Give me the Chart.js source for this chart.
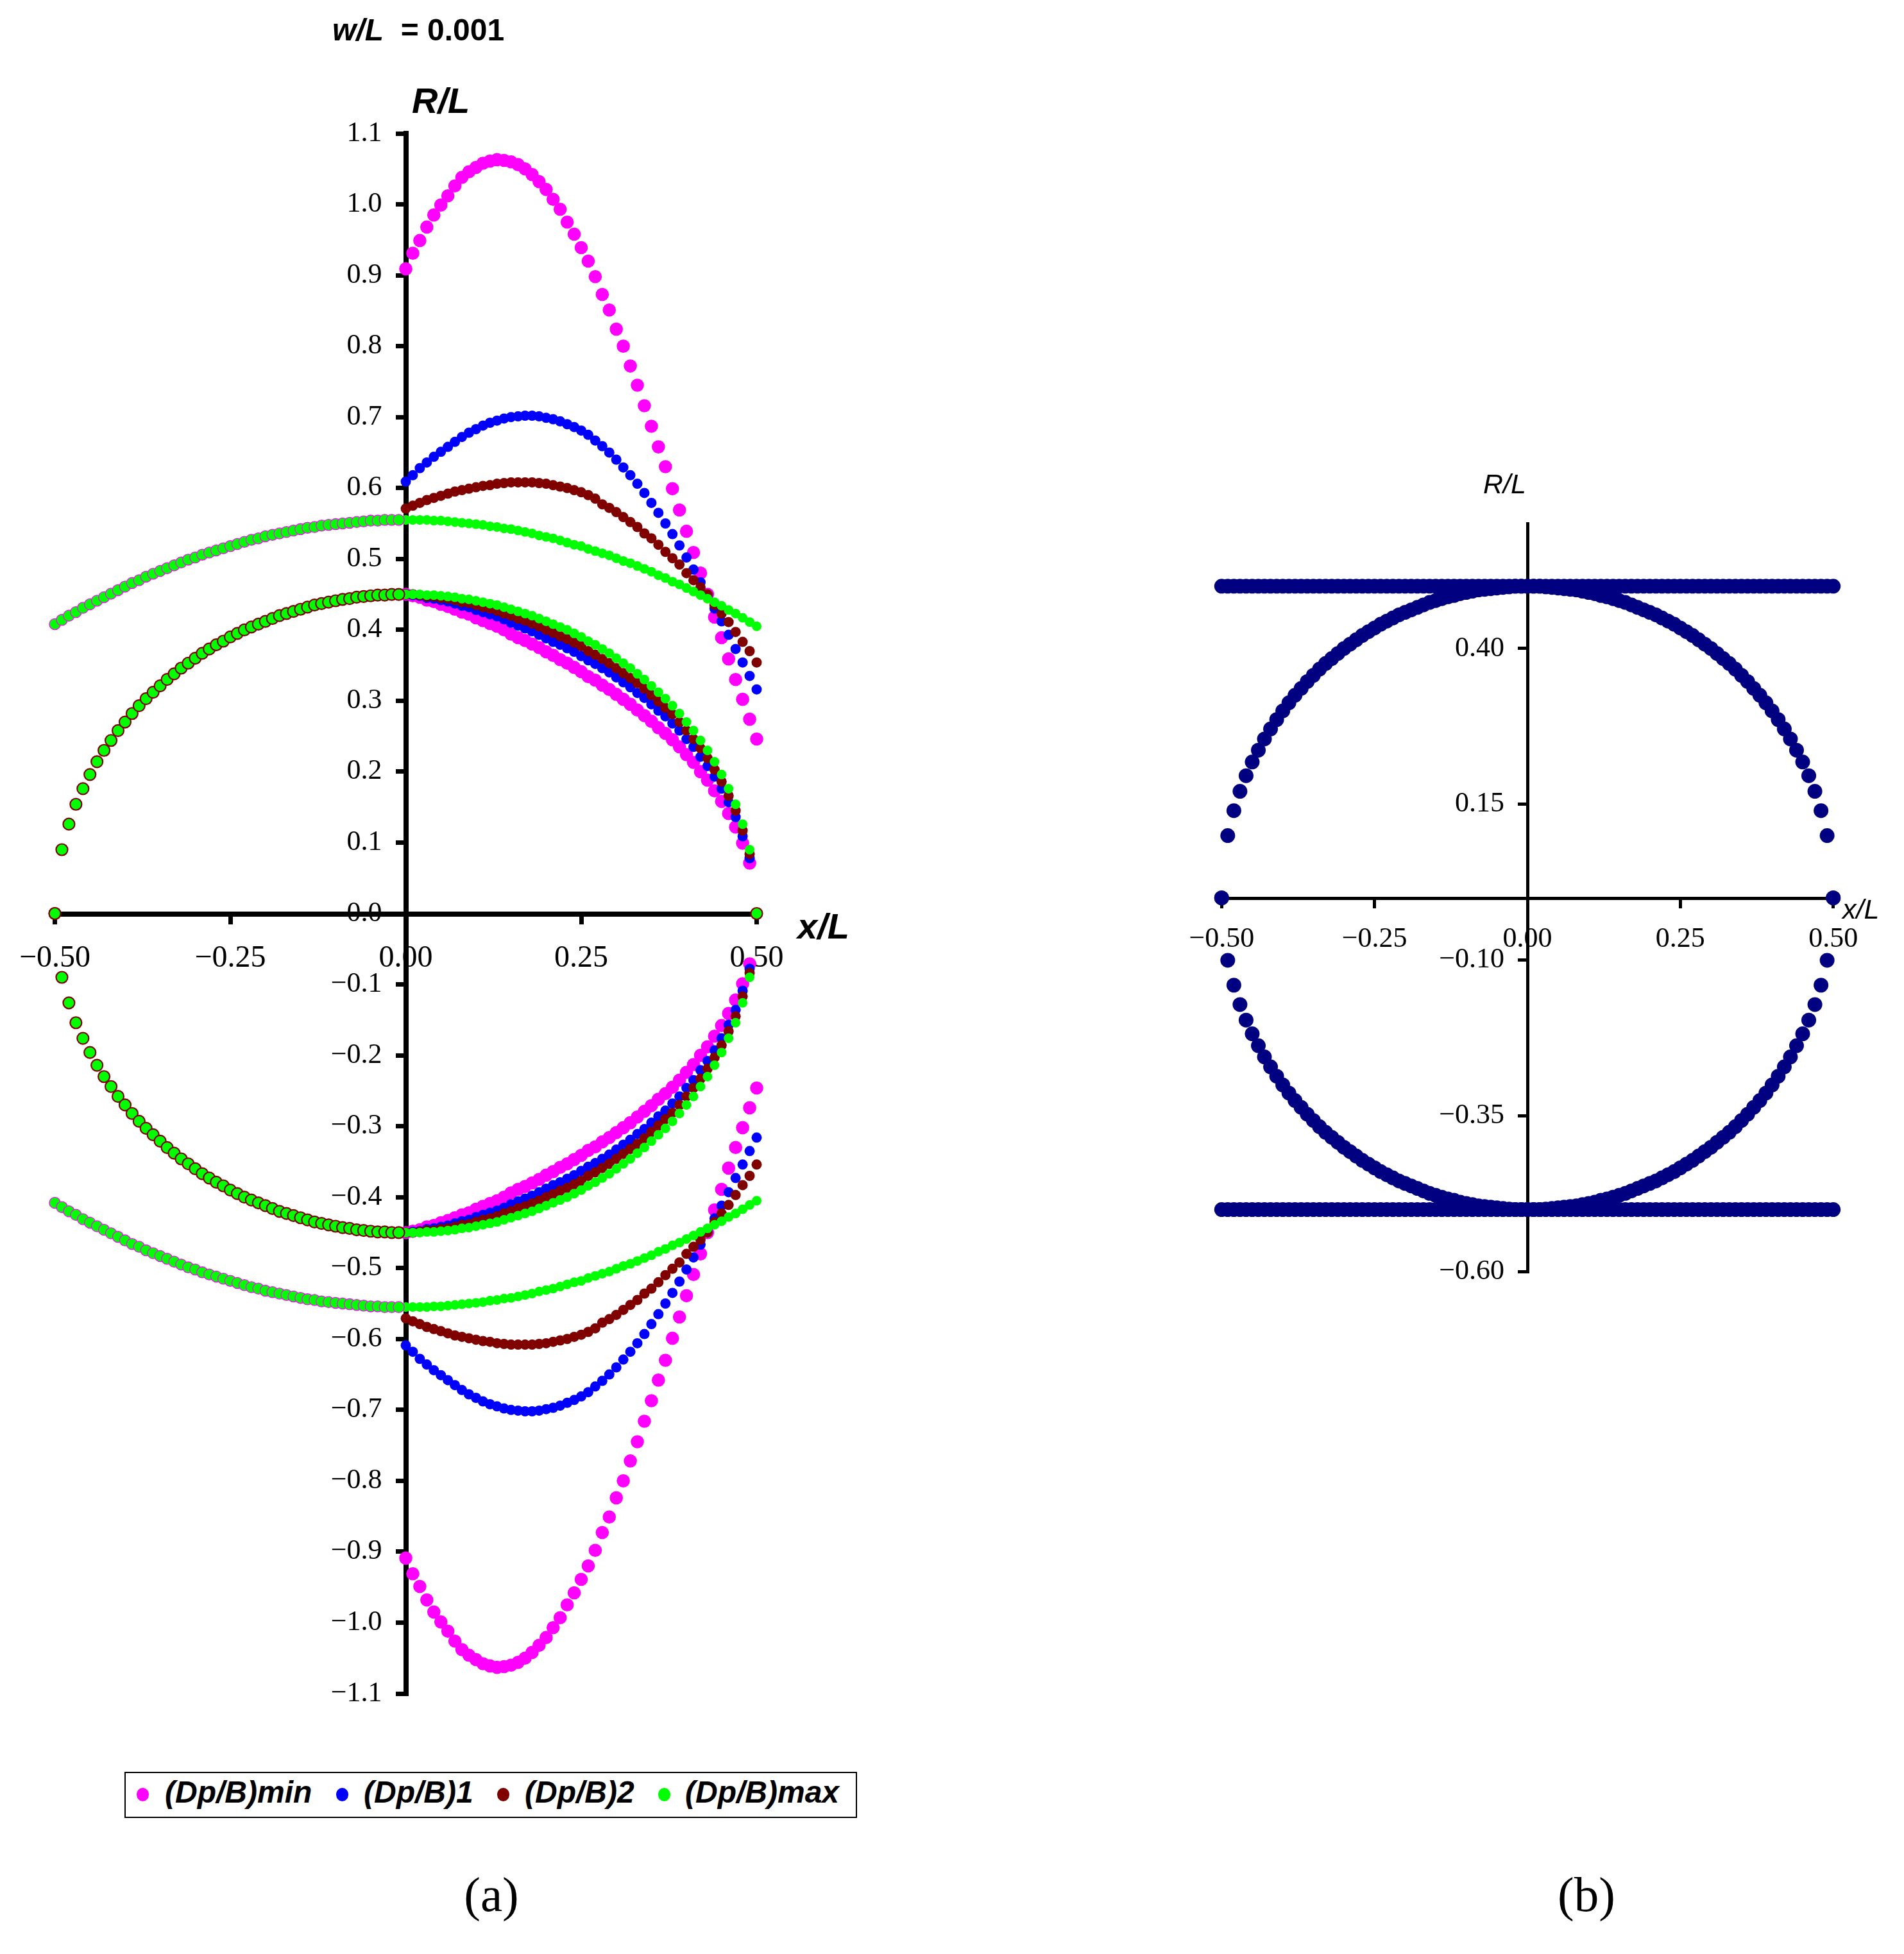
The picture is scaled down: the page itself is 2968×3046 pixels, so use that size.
<!DOCTYPE html>
<html>
<head>
<meta charset="utf-8">
<script src="https://cdn.jsdelivr.net/npm/chart.js@4.4.1/dist/chart.umd.min.js"></script>
<style>
  html, body { margin: 0; padding: 0; background: #fff; }
  body { width: 2968px; height: 3046px; position: relative; overflow: hidden; }
  canvas { position: absolute; }
  .t { position: absolute; white-space: pre; color: #000; line-height: 1; }
  .sans { font-family: "Liberation Sans", Arial, sans-serif; }
  .serif { font-family: "Liberation Serif", "Times New Roman", serif; }
  .legend { position: absolute; left: 194px; top: 2762px; width: 1138px; height: 68px; border: 2px solid #000; }
  .mk { position: absolute; width: 19px; height: 21px; border-radius: 50%; }
</style>
</head>
<body>
<canvas id="chartA" width="1400" height="2700" style="left:0;top:0"></canvas>
<canvas id="chartB" width="1168" height="1500" style="left:1800px;top:600px"></canvas>

<div class="t sans" style="left:518px;top:23px;font-size:48px;font-weight:bold"><i>w/L</i>  = 0.001</div>
<div class="t sans" style="left:642px;top:129px;font-size:56px;font-weight:bold;font-style:italic">R/L</div>
<div class="t sans" style="left:1243px;top:1416px;font-size:56px;font-weight:bold;font-style:italic">x/L</div>
<div class="t sans" style="left:2312px;top:733px;font-size:43px;font-style:italic">R/L</div>
<div class="t sans" style="left:2872px;top:1396px;font-size:43px;font-style:italic">x/L</div>

<div class="legend"></div>
<div class="mk" style="left:213px;top:2787px;background:#ff00ff"></div>
<div class="mk" style="left:524px;top:2787px;background:#0000ff"></div>
<div class="mk" style="left:775px;top:2787px;background:#800000"></div>
<div class="mk" style="left:1026px;top:2787px;background:#00ff00"></div>
<div class="t sans" style="left:257px;top:2770px;font-size:48px;font-weight:bold;font-style:italic">(Dp/B)min</div>
<div class="t sans" style="left:567px;top:2770px;font-size:48px;font-weight:bold;font-style:italic">(Dp/B)1</div>
<div class="t sans" style="left:818px;top:2770px;font-size:48px;font-weight:bold;font-style:italic">(Dp/B)2</div>
<div class="t sans" style="left:1068px;top:2770px;font-size:48px;font-weight:bold;font-style:italic">(Dp/B)max</div>

<div class="t serif" style="left:666px;width:200px;text-align:center;top:2915px;font-size:77px">(a)</div>
<div class="t serif" style="left:2373px;width:200px;text-align:center;top:2915px;font-size:77px">(b)</div>

<script>
"use strict";

// ---------- (a) data ----------
const xRight = [0.00, 0.01, 0.02, 0.03, 0.04, 0.05, 0.06, 0.07, 0.08, 0.09,
  0.10, 0.11, 0.12, 0.13, 0.14, 0.15, 0.16, 0.17, 0.18, 0.19,
  0.20, 0.21, 0.22, 0.23, 0.24, 0.25, 0.26, 0.27, 0.28, 0.29,
  0.30, 0.31, 0.32, 0.33, 0.34, 0.35, 0.36, 0.37, 0.38, 0.39,
  0.40, 0.41, 0.42, 0.43, 0.44, 0.45, 0.46, 0.47, 0.48, 0.49, 0.50];
const xLeft = [-0.50, -0.49, -0.48, -0.47, -0.46, -0.45, -0.44, -0.43, -0.42, -0.41,
  -0.40, -0.39, -0.38, -0.37, -0.36, -0.35, -0.34, -0.33, -0.32, -0.31,
  -0.30, -0.29, -0.28, -0.27, -0.26, -0.25, -0.24, -0.23, -0.22, -0.21,
  -0.20, -0.19, -0.18, -0.17, -0.16, -0.15, -0.14, -0.13, -0.12, -0.11,
  -0.10, -0.09, -0.08, -0.07, -0.06, -0.05, -0.04, -0.03, -0.02, -0.01];

// left half, shared by all four series
const upLeft = [0.408, 0.414, 0.420, 0.425, 0.431, 0.436, 0.441, 0.446, 0.451, 0.456,
  0.461, 0.466, 0.470, 0.475, 0.479, 0.483, 0.487, 0.491, 0.495, 0.499,
  0.502, 0.506, 0.509, 0.512, 0.515, 0.518, 0.521, 0.524, 0.527, 0.529,
  0.532, 0.534, 0.536, 0.538, 0.540, 0.542, 0.544, 0.545, 0.547, 0.548,
  0.549, 0.550, 0.551, 0.552, 0.553, 0.554, 0.554, 0.555, 0.555, 0.555];
const upLeftNeg = [-0.408, -0.414, -0.420, -0.425, -0.431, -0.436, -0.441, -0.446, -0.451, -0.456,
  -0.461, -0.466, -0.470, -0.475, -0.479, -0.483, -0.487, -0.491, -0.495, -0.499,
  -0.502, -0.506, -0.509, -0.512, -0.515, -0.518, -0.521, -0.524, -0.527, -0.529,
  -0.532, -0.534, -0.536, -0.538, -0.540, -0.542, -0.544, -0.545, -0.547, -0.548,
  -0.549, -0.550, -0.551, -0.552, -0.553, -0.554, -0.554, -0.555, -0.555, -0.555];
const lowLeft = [0.000, 0.090, 0.126, 0.154, 0.176, 0.196, 0.214, 0.230, 0.244, 0.258,
  0.270, 0.282, 0.293, 0.303, 0.312, 0.321, 0.330, 0.338, 0.346, 0.353,
  0.360, 0.367, 0.373, 0.379, 0.384, 0.390, 0.395, 0.400, 0.404, 0.408,
  0.412, 0.416, 0.420, 0.423, 0.426, 0.429, 0.432, 0.435, 0.437, 0.439,
  0.441, 0.443, 0.444, 0.446, 0.447, 0.448, 0.449, 0.449, 0.450, 0.450];
const lowLeftNeg = [0.000, -0.090, -0.126, -0.154, -0.176, -0.196, -0.214, -0.230, -0.244, -0.258,
  -0.270, -0.282, -0.293, -0.303, -0.312, -0.321, -0.330, -0.338, -0.346, -0.353,
  -0.360, -0.367, -0.373, -0.379, -0.384, -0.390, -0.395, -0.400, -0.404, -0.408,
  -0.412, -0.416, -0.420, -0.423, -0.426, -0.429, -0.432, -0.435, -0.437, -0.439,
  -0.441, -0.443, -0.444, -0.446, -0.447, -0.448, -0.449, -0.449, -0.450, -0.450];
const endX = [0.50];
const endY = [0.000];

// (Dp/B)min
const minUp = [0.909, 0.931, 0.949, 0.968, 0.985, 0.999, 1.012, 1.026, 1.038, 1.046,
  1.052, 1.058, 1.061, 1.063, 1.062, 1.060, 1.056, 1.050, 1.042, 1.032,
  1.021, 1.007, 0.993, 0.975, 0.958, 0.939, 0.920, 0.898, 0.873, 0.851,
  0.824, 0.800, 0.772, 0.745, 0.716, 0.687, 0.658, 0.630, 0.599, 0.569,
  0.539, 0.509, 0.480, 0.450, 0.418, 0.389, 0.359, 0.330, 0.302, 0.274, 0.246];
const minLow = [0.450, 0.448, 0.446, 0.442, 0.440, 0.436, 0.433, 0.429, 0.425, 0.422,
  0.417, 0.413, 0.409, 0.405, 0.400, 0.394, 0.389, 0.385, 0.380, 0.375,
  0.369, 0.364, 0.358, 0.353, 0.347, 0.341, 0.334, 0.329, 0.322, 0.316,
  0.309, 0.302, 0.295, 0.287, 0.279, 0.271, 0.262, 0.254, 0.245, 0.235,
  0.224, 0.213, 0.200, 0.188, 0.173, 0.158, 0.141, 0.122, 0.099, 0.071];
const minUpNeg = [-0.909, -0.931, -0.949, -0.968, -0.985, -0.999, -1.012, -1.026, -1.038, -1.046,
  -1.052, -1.058, -1.061, -1.063, -1.062, -1.060, -1.056, -1.050, -1.042, -1.032,
  -1.021, -1.007, -0.993, -0.975, -0.958, -0.939, -0.920, -0.898, -0.873, -0.851,
  -0.824, -0.800, -0.772, -0.745, -0.716, -0.687, -0.658, -0.630, -0.599, -0.569,
  -0.539, -0.509, -0.480, -0.450, -0.418, -0.389, -0.359, -0.330, -0.302, -0.274, -0.246];
const minLowNeg = [-0.450, -0.448, -0.446, -0.442, -0.440, -0.436, -0.433, -0.429, -0.425, -0.422,
  -0.417, -0.413, -0.409, -0.405, -0.400, -0.394, -0.389, -0.385, -0.380, -0.375,
  -0.369, -0.364, -0.358, -0.353, -0.347, -0.341, -0.334, -0.329, -0.322, -0.316,
  -0.309, -0.302, -0.295, -0.287, -0.279, -0.271, -0.262, -0.254, -0.245, -0.235,
  -0.224, -0.213, -0.200, -0.188, -0.173, -0.158, -0.141, -0.122, -0.099, -0.071];

// (Dp/B)1
const b1Up = [0.609, 0.618, 0.628, 0.636, 0.644, 0.651, 0.658, 0.665, 0.672, 0.678,
  0.683, 0.688, 0.692, 0.695, 0.698, 0.700, 0.701, 0.702, 0.702, 0.701,
  0.699, 0.697, 0.694, 0.690, 0.686, 0.681, 0.675, 0.667, 0.659, 0.650,
  0.640, 0.629, 0.618, 0.606, 0.593, 0.579, 0.565, 0.550, 0.535, 0.519,
  0.502, 0.485, 0.467, 0.449, 0.430, 0.412, 0.393, 0.373, 0.354, 0.335, 0.316];
const b1Low = [0.450, 0.449, 0.448, 0.445, 0.444, 0.442, 0.440, 0.437, 0.434, 0.432,
  0.428, 0.425, 0.422, 0.419, 0.415, 0.410, 0.406, 0.402, 0.398, 0.393,
  0.388, 0.383, 0.379, 0.374, 0.369, 0.363, 0.357, 0.352, 0.346, 0.340,
  0.333, 0.326, 0.319, 0.311, 0.304, 0.295, 0.286, 0.278, 0.268, 0.258,
  0.246, 0.235, 0.221, 0.208, 0.193, 0.176, 0.157, 0.136, 0.109, 0.078];
const b1UpNeg = [-0.609, -0.618, -0.628, -0.636, -0.644, -0.651, -0.658, -0.665, -0.672, -0.678,
  -0.683, -0.688, -0.692, -0.695, -0.698, -0.700, -0.701, -0.702, -0.702, -0.701,
  -0.699, -0.697, -0.694, -0.690, -0.686, -0.681, -0.675, -0.667, -0.659, -0.650,
  -0.640, -0.629, -0.618, -0.606, -0.593, -0.579, -0.565, -0.550, -0.535, -0.519,
  -0.502, -0.485, -0.467, -0.449, -0.430, -0.412, -0.393, -0.373, -0.354, -0.335, -0.316];
const b1LowNeg = [-0.450, -0.449, -0.448, -0.445, -0.444, -0.442, -0.440, -0.437, -0.434, -0.432,
  -0.428, -0.425, -0.422, -0.419, -0.415, -0.410, -0.406, -0.402, -0.398, -0.393,
  -0.388, -0.383, -0.379, -0.374, -0.369, -0.363, -0.357, -0.352, -0.346, -0.340,
  -0.333, -0.326, -0.319, -0.311, -0.304, -0.295, -0.286, -0.278, -0.268, -0.258,
  -0.246, -0.235, -0.221, -0.208, -0.193, -0.176, -0.157, -0.136, -0.109, -0.078];

// (Dp/B)2
const b2Up = [0.571, 0.575, 0.579, 0.583, 0.586, 0.589, 0.592, 0.595, 0.597, 0.599,
  0.601, 0.603, 0.604, 0.606, 0.607, 0.608, 0.608, 0.608, 0.608, 0.607,
  0.606, 0.604, 0.602, 0.600, 0.597, 0.594, 0.590, 0.585, 0.577, 0.572,
  0.566, 0.559, 0.552, 0.545, 0.536, 0.529, 0.520, 0.510, 0.501, 0.492,
  0.480, 0.470, 0.460, 0.450, 0.435, 0.423, 0.411, 0.397, 0.383, 0.370, 0.354];
const b2Low = [0.450, 0.450, 0.449, 0.447, 0.447, 0.445, 0.444, 0.442, 0.439, 0.438,
  0.435, 0.432, 0.430, 0.427, 0.423, 0.420, 0.416, 0.413, 0.409, 0.405,
  0.400, 0.396, 0.391, 0.387, 0.382, 0.377, 0.370, 0.365, 0.359, 0.353,
  0.346, 0.339, 0.332, 0.325, 0.317, 0.308, 0.299, 0.290, 0.281, 0.270,
  0.258, 0.246, 0.233, 0.219, 0.203, 0.186, 0.166, 0.145, 0.117, 0.084];
const b2UpNeg = [-0.571, -0.575, -0.579, -0.583, -0.586, -0.589, -0.592, -0.595, -0.597, -0.599,
  -0.601, -0.603, -0.604, -0.606, -0.607, -0.608, -0.608, -0.608, -0.608, -0.607,
  -0.606, -0.604, -0.602, -0.600, -0.597, -0.594, -0.590, -0.585, -0.577, -0.572,
  -0.566, -0.559, -0.552, -0.545, -0.536, -0.529, -0.520, -0.510, -0.501, -0.492,
  -0.480, -0.470, -0.460, -0.450, -0.435, -0.423, -0.411, -0.397, -0.383, -0.370, -0.354];
const b2LowNeg = [-0.450, -0.450, -0.449, -0.447, -0.447, -0.445, -0.444, -0.442, -0.439, -0.438,
  -0.435, -0.432, -0.430, -0.427, -0.423, -0.420, -0.416, -0.413, -0.409, -0.405,
  -0.400, -0.396, -0.391, -0.387, -0.382, -0.377, -0.370, -0.365, -0.359, -0.353,
  -0.346, -0.339, -0.332, -0.325, -0.317, -0.308, -0.299, -0.290, -0.281, -0.270,
  -0.258, -0.246, -0.233, -0.219, -0.203, -0.186, -0.166, -0.145, -0.117, -0.084];

// (Dp/B)max
const maxUp = [0.555, 0.555, 0.555, 0.555, 0.554, 0.554, 0.553, 0.552, 0.551, 0.550,
  0.549, 0.548, 0.546, 0.545, 0.543, 0.542, 0.540, 0.538, 0.536, 0.533,
  0.531, 0.529, 0.526, 0.523, 0.520, 0.518, 0.514, 0.511, 0.508, 0.505,
  0.501, 0.497, 0.494, 0.490, 0.486, 0.482, 0.477, 0.473, 0.468, 0.464,
  0.459, 0.454, 0.449, 0.444, 0.439, 0.434, 0.428, 0.423, 0.417, 0.411, 0.405];
const maxLow = [0.450, 0.450, 0.450, 0.449, 0.449, 0.448, 0.447, 0.446, 0.444, 0.443,
  0.441, 0.439, 0.437, 0.435, 0.432, 0.429, 0.426, 0.423, 0.420, 0.416,
  0.412, 0.408, 0.404, 0.400, 0.395, 0.390, 0.384, 0.379, 0.373, 0.367,
  0.360, 0.353, 0.346, 0.338, 0.330, 0.321, 0.312, 0.303, 0.293, 0.282,
  0.270, 0.258, 0.244, 0.230, 0.214, 0.196, 0.176, 0.154, 0.126, 0.090];
const maxUpNeg = [-0.555, -0.555, -0.555, -0.555, -0.554, -0.554, -0.553, -0.552, -0.551, -0.550,
  -0.549, -0.548, -0.546, -0.545, -0.543, -0.542, -0.540, -0.538, -0.536, -0.533,
  -0.531, -0.529, -0.526, -0.523, -0.520, -0.518, -0.514, -0.511, -0.508, -0.505,
  -0.501, -0.497, -0.494, -0.490, -0.486, -0.482, -0.477, -0.473, -0.468, -0.464,
  -0.459, -0.454, -0.449, -0.444, -0.439, -0.434, -0.428, -0.423, -0.417, -0.411, -0.405];
const maxLowNeg = [-0.450, -0.450, -0.450, -0.449, -0.449, -0.448, -0.447, -0.446, -0.444, -0.443,
  -0.441, -0.439, -0.437, -0.435, -0.432, -0.429, -0.426, -0.423, -0.420, -0.416,
  -0.412, -0.408, -0.404, -0.400, -0.395, -0.390, -0.384, -0.379, -0.373, -0.367,
  -0.360, -0.353, -0.346, -0.338, -0.330, -0.321, -0.312, -0.303, -0.293, -0.282,
  -0.270, -0.258, -0.244, -0.230, -0.214, -0.196, -0.176, -0.154, -0.126, -0.090];

const xTicksA = [-0.50, -0.25, 0.00, 0.25, 0.50];
const yTicksA = [-1.1, -1.0, -0.9, -0.8, -0.7, -0.6, -0.5, -0.4, -0.3, -0.2, -0.1, 0.0,
  0.1, 0.2, 0.3, 0.4, 0.5, 0.6, 0.7, 0.8, 0.9, 1.0, 1.1];

// ---------- (b) data ----------
const xB = [-0.50, -0.49, -0.48, -0.47, -0.46, -0.45, -0.44, -0.43, -0.42, -0.41,
  -0.40, -0.39, -0.38, -0.37, -0.36, -0.35, -0.34, -0.33, -0.32, -0.31,
  -0.30, -0.29, -0.28, -0.27, -0.26, -0.25, -0.24, -0.23, -0.22, -0.21,
  -0.20, -0.19, -0.18, -0.17, -0.16, -0.15, -0.14, -0.13, -0.12, -0.11,
  -0.10, -0.09, -0.08, -0.07, -0.06, -0.05, -0.04, -0.03, -0.02, -0.01, 0.00,
  0.01, 0.02, 0.03, 0.04, 0.05, 0.06, 0.07, 0.08, 0.09, 0.10,
  0.11, 0.12, 0.13, 0.14, 0.15, 0.16, 0.17, 0.18, 0.19, 0.20,
  0.21, 0.22, 0.23, 0.24, 0.25, 0.26, 0.27, 0.28, 0.29, 0.30,
  0.31, 0.32, 0.33, 0.34, 0.35, 0.36, 0.37, 0.38, 0.39, 0.40,
  0.41, 0.42, 0.43, 0.44, 0.45, 0.46, 0.47, 0.48, 0.49, 0.50];
const bTop = [0.5, 0.5, 0.5, 0.5, 0.5, 0.5, 0.5, 0.5, 0.5, 0.5,
  0.5, 0.5, 0.5, 0.5, 0.5, 0.5, 0.5, 0.5, 0.5, 0.5,
  0.5, 0.5, 0.5, 0.5, 0.5, 0.5, 0.5, 0.5, 0.5, 0.5,
  0.5, 0.5, 0.5, 0.5, 0.5, 0.5, 0.5, 0.5, 0.5, 0.5,
  0.5, 0.5, 0.5, 0.5, 0.5, 0.5, 0.5, 0.5, 0.5, 0.5, 0.5,
  0.5, 0.5, 0.5, 0.5, 0.5, 0.5, 0.5, 0.5, 0.5, 0.5,
  0.5, 0.5, 0.5, 0.5, 0.5, 0.5, 0.5, 0.5, 0.5, 0.5,
  0.5, 0.5, 0.5, 0.5, 0.5, 0.5, 0.5, 0.5, 0.5, 0.5,
  0.5, 0.5, 0.5, 0.5, 0.5, 0.5, 0.5, 0.5, 0.5, 0.5,
  0.5, 0.5, 0.5, 0.5, 0.5, 0.5, 0.5, 0.5, 0.5, 0.5];
const bBottom = [-0.5, -0.5, -0.5, -0.5, -0.5, -0.5, -0.5, -0.5, -0.5, -0.5,
  -0.5, -0.5, -0.5, -0.5, -0.5, -0.5, -0.5, -0.5, -0.5, -0.5,
  -0.5, -0.5, -0.5, -0.5, -0.5, -0.5, -0.5, -0.5, -0.5, -0.5,
  -0.5, -0.5, -0.5, -0.5, -0.5, -0.5, -0.5, -0.5, -0.5, -0.5,
  -0.5, -0.5, -0.5, -0.5, -0.5, -0.5, -0.5, -0.5, -0.5, -0.5, -0.5,
  -0.5, -0.5, -0.5, -0.5, -0.5, -0.5, -0.5, -0.5, -0.5, -0.5,
  -0.5, -0.5, -0.5, -0.5, -0.5, -0.5, -0.5, -0.5, -0.5, -0.5,
  -0.5, -0.5, -0.5, -0.5, -0.5, -0.5, -0.5, -0.5, -0.5, -0.5,
  -0.5, -0.5, -0.5, -0.5, -0.5, -0.5, -0.5, -0.5, -0.5, -0.5,
  -0.5, -0.5, -0.5, -0.5, -0.5, -0.5, -0.5, -0.5, -0.5, -0.5];
const bArcUp = [0.000, 0.100, 0.140, 0.171, 0.196, 0.218, 0.237, 0.255, 0.271, 0.286,
  0.300, 0.313, 0.325, 0.336, 0.347, 0.357, 0.367, 0.376, 0.384, 0.392,
  0.400, 0.407, 0.414, 0.421, 0.427, 0.433, 0.439, 0.444, 0.449, 0.454,
  0.458, 0.462, 0.466, 0.470, 0.474, 0.477, 0.480, 0.483, 0.485, 0.488,
  0.490, 0.492, 0.494, 0.495, 0.496, 0.497, 0.498, 0.499, 0.500, 0.500, 0.500,
  0.500, 0.500, 0.499, 0.498, 0.497, 0.496, 0.495, 0.494, 0.492, 0.490,
  0.488, 0.485, 0.483, 0.480, 0.477, 0.474, 0.470, 0.466, 0.462, 0.458,
  0.454, 0.449, 0.444, 0.439, 0.433, 0.427, 0.421, 0.414, 0.407, 0.400,
  0.392, 0.384, 0.376, 0.367, 0.357, 0.347, 0.336, 0.325, 0.313, 0.300,
  0.286, 0.271, 0.255, 0.237, 0.218, 0.196, 0.171, 0.140, 0.100, 0.000];
const bArcLow = [0.000, -0.100, -0.140, -0.171, -0.196, -0.218, -0.237, -0.255, -0.271, -0.286,
  -0.300, -0.313, -0.325, -0.336, -0.347, -0.357, -0.367, -0.376, -0.384, -0.392,
  -0.400, -0.407, -0.414, -0.421, -0.427, -0.433, -0.439, -0.444, -0.449, -0.454,
  -0.458, -0.462, -0.466, -0.470, -0.474, -0.477, -0.480, -0.483, -0.485, -0.488,
  -0.490, -0.492, -0.494, -0.495, -0.496, -0.497, -0.498, -0.499, -0.500, -0.500, -0.500,
  -0.500, -0.500, -0.499, -0.498, -0.497, -0.496, -0.495, -0.494, -0.492, -0.490,
  -0.488, -0.485, -0.483, -0.480, -0.477, -0.474, -0.470, -0.466, -0.462, -0.458,
  -0.454, -0.449, -0.444, -0.439, -0.433, -0.427, -0.421, -0.414, -0.407, -0.400,
  -0.392, -0.384, -0.376, -0.367, -0.357, -0.347, -0.336, -0.325, -0.313, -0.300,
  -0.286, -0.271, -0.255, -0.237, -0.218, -0.196, -0.171, -0.140, -0.100, 0.000];

const xTicksB = [-0.50, -0.25, 0.00, 0.25, 0.50];
const yTicksB = [-0.60, -0.35, -0.10, 0.15, 0.40];

// ---------- helpers ----------
function pts(xs, ...ysList) {
  const out = [];
  ysList.forEach(ys => ys.forEach((y, i) => out.push({ x: xs[i], y: y })));
  return out;
}

function fmt(v, d) {
  const s = Math.abs(v).toFixed(d);
  return v < -1e-9 ? "\u2212" + s : s;
}

function dots(data, color, radius, order, border, borderWidth) {
  return {
    data: data,
    order: order,
    clip: false,
    showLine: false,
    pointStyle: "circle",
    pointRadius: radius,
    pointHoverRadius: radius,
    pointBackgroundColor: color,
    pointBorderColor: border || color,
    pointBorderWidth: borderWidth || 0
  };
}

function axis(ticksList, decimals, min, max, opts) {
  return {
    type: "linear",
    position: "center",
    min: min,
    max: max,
    afterBuildTicks: scale => {
      scale.ticks = ticksList.map(v => ({ value: v }));
    },
    ticks: {
      autoSkip: false,
      maxRotation: 0,
      minRotation: 0,
      padding: opts.padding,
      color: "#000",
      font: { family: "Liberation Serif", size: opts.fontSize },
      callback: v => fmt(v, decimals)
    },
    grid: {
      drawOnChartArea: false,
      drawTicks: true,
      tickLength: opts.tickLength,
      tickWidth: opts.tickWidth,
      tickColor: "#000",
      lineWidth: opts.tickWidth,
      color: "#000"
    },
    border: { display: true, color: "#000", width: opts.borderWidth }
  };
}

Chart.defaults.color = "#000";

// ---------- chart (a) ----------
new Chart(document.getElementById("chartA"), {
  type: "scatter",
  data: {
    datasets: [
      dots(pts(xRight, minUp, minLow, minUpNeg, minLowNeg), "#ff00ff", 10.3, 4),
      dots(pts(xRight, b1Up, b1Low, b1UpNeg, b1LowNeg), "#0000ff", 8, 3),
      dots(pts(xRight, b2Up, b2Low, b2UpNeg, b2LowNeg), "#800000", 8, 2),
      dots(pts(xRight, maxUp, maxLow, maxUpNeg, maxLowNeg), "#00ff00", 7.5, 1),
      dots(pts(xLeft, upLeft, upLeftNeg), "#00ff00", 8.6, 0, "#ff00ff", 1.3),
      dots(pts(xLeft, lowLeft, lowLeftNeg).concat(pts(endX, endY)), "#00ff00", 9, 0, "#800000", 2.2)
    ]
  },
  options: {
    responsive: false,
    animation: false,
    devicePixelRatio: 1,
    events: [],
    layout: { padding: { left: 83.5, right: 220.5, top: 208, bottom: 60 } },
    plugins: { legend: { display: false }, tooltip: { enabled: false } },
    scales: {
      x: axis(xTicksA, 2, -0.5, 0.5, { padding: 30, fontSize: 48, tickLength: 12, tickWidth: 7, borderWidth: 8 }),
      y: axis(yTicksA, 1, -1.1, 1.1, { padding: 25, fontSize: 44, tickLength: 12, tickWidth: 7, borderWidth: 8 })
    }
  }
});

// ---------- chart (b) ----------
new Chart(document.getElementById("chartB"), {
  type: "scatter",
  data: {
    datasets: [
      dots(pts(xB, bTop, bBottom), "#000080", 11.5, 0),
      dots(pts(xB, bArcUp, bArcLow), "#000080", 11.5, 1)
    ]
  },
  options: {
    responsive: false,
    animation: false,
    devicePixelRatio: 1,
    events: [],
    layout: { padding: { left: 104.3, right: 110.3, top: 216.6, bottom: 117.2 } },
    plugins: { legend: { display: false }, tooltip: { enabled: false } },
    scales: {
      x: axis(xTicksB, 2, -0.5, 0.5, { padding: 25, fontSize: 44, tickLength: 13, tickWidth: 5, borderWidth: 5 }),
      y: axis(yTicksB, 2, -0.6, 0.6, { padding: 23, fontSize: 44, tickLength: 13, tickWidth: 5, borderWidth: 5 })
    }
  }
});
</script>
</body>
</html>
